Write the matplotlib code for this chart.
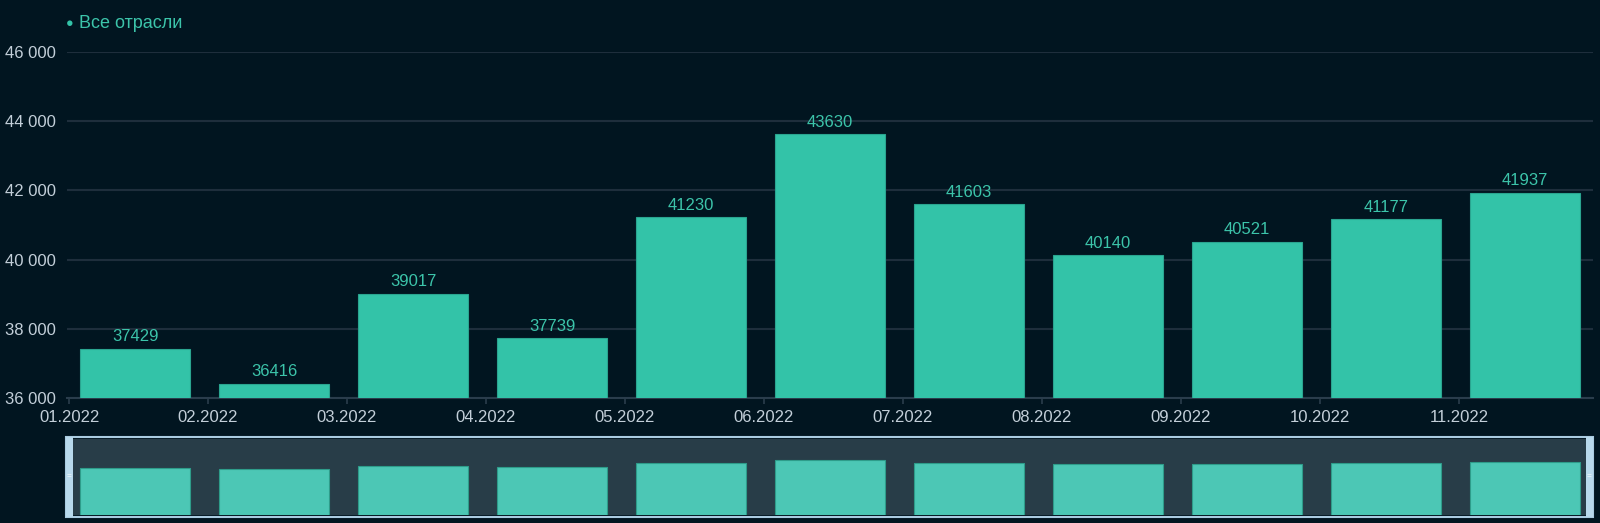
import matplotlib
matplotlib.use("Agg")
import matplotlib.pyplot as plt
from matplotlib.patches import Rectangle
from matplotlib.ticker import FuncFormatter

months = ["01.2022", "02.2022", "03.2022", "04.2022", "05.2022", "06.2022",
          "07.2022", "08.2022", "09.2022", "10.2022", "11.2022"]
values = [37429, 36416, 39017, 37739, 41230, 43630, 41603, 40140, 40521, 41177, 41937]
series_name = "Все отрасли"

W, H = 1600, 523
bg = "#011520"
bar_col = "#33c3a8"
grid_col = "#1e2e3c"
text_col = "#c3cfd9"

plt.rcParams["font.family"] = ["Liberation Sans", "DejaVu Sans"]

fig = plt.figure(figsize=(W / 100, H / 100), dpi=100, facecolor=bg)

def px_box(x0, y0, x1, y1):
    # pixel box (top-left origin) -> figure fraction rect
    return [x0 / W, 1 - y1 / H, (x1 - x0) / W, (y1 - y0) / H]

## main chart
ax = fig.add_axes(px_box(67, 52, 1593, 398))
ax.set_facecolor(bg)
xpos = [i + 0.475 for i in range(len(values))]
ax.bar(xpos, values, width=0.79, color=bar_col, edgecolor="#2aa590",
       linewidth=0.8, bottom=0, zorder=3)
for x, v in zip(xpos, values):
    ax.annotate(str(v), (x, v), xytext=(0, 3), textcoords="offset points",
                ha="center", va="bottom", color="#3cc4aa", fontsize=12, zorder=4)

ax.set_xlim(-0.015, 10.965)
ax.set_ylim(36000, 46000)
ax.set_yticks(range(36000, 46001, 2000))
ax.yaxis.set_major_formatter(FuncFormatter(lambda v, p: f"{int(v):,}".replace(",", " ")))
ax.set_xticks(range(len(months)))
ax.set_xticklabels(months)
ax.grid(axis="y", color=grid_col, linewidth=1.5, zorder=0)
ax.tick_params(axis="y", length=0, pad=8, labelsize=12, labelcolor=text_col)
ax.tick_params(axis="x", length=4, width=1.2, color="#2a3d4c", pad=5,
               labelsize=12, labelcolor=text_col)
for s in ["top", "right", "left"]:
    ax.spines[s].set_visible(False)
ax.spines["bottom"].set_color("#2a3d4c")
ax.spines["bottom"].set_linewidth(1.5)

## legend
fig.text(70 / W, 1 - 24.5 / H, "\u25CF", color=bar_col, fontsize=9,
         ha="center", va="center")
fig.text(79 / W, 1 - 24 / H, series_name, color="#3cc4aa", fontsize=13,
         ha="left", va="center")

## navigator below
nav = fig.add_axes(px_box(67, 439, 1593, 515))
nav.set_facecolor("#283d48")
nav.bar(xpos, values, width=0.79, color="#4cc7b5", edgecolor="#2e9c8a",
        linewidth=0.8, zorder=3)
nav.set_xlim(-0.015, 10.965)
nav.set_ylim(0, 60300)
nav.set_xticks([])
nav.set_yticks([])
for s in nav.spines.values():
    s.set_visible(False)

# frame and handles of the navigator
fig.patches.append(Rectangle((66 / W, 1 - 517 / H), (1593 - 66) / W, 80 / H,
                             transform=fig.transFigure, fill=False,
                             edgecolor="#a9cbe0", linewidth=1.5, zorder=5))
fig.patches.append(Rectangle((66 / W, 1 - 517 / H), 7 / W, 80 / H,
                             transform=fig.transFigure, facecolor="#b8d9ec",
                             edgecolor="none", zorder=6))
fig.patches.append(Rectangle((1586 / W, 1 - 517 / H), 7 / W, 80 / H,
                             transform=fig.transFigure, facecolor="#b8d9ec",
                             edgecolor="none", zorder=6))
for hx in [69.5, 1589.5]:
    fig.text(hx / W, 1 - 477 / H, "=", color="white", fontsize=6,
             ha="center", va="center", zorder=7)

fig.savefig("out.png", dpi=100, facecolor=bg)
